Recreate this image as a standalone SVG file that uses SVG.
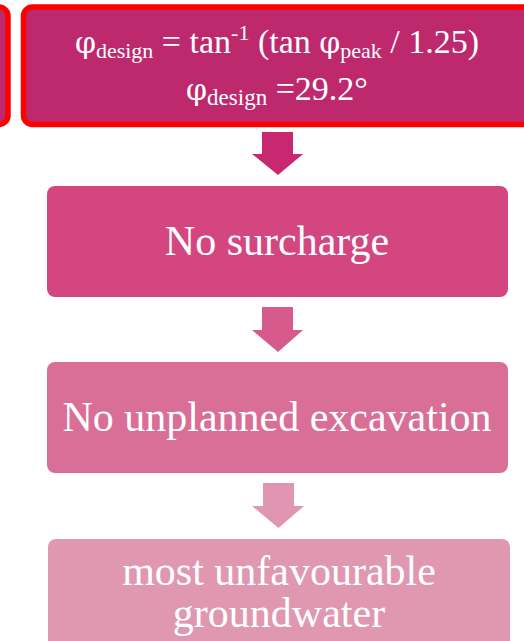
<svg xmlns="http://www.w3.org/2000/svg" width="524" height="641" viewBox="0 0 524 641">
<style>
.t{font-family:"Liberation Serif","Times New Roman",serif;fill:#ffffff;text-anchor:middle}
.s{font-family:"Liberation Serif","Times New Roman",serif}
.g{font-family:"DejaVu Serif","Liberation Serif",serif}
.hl{fill:#BE296D;stroke:#FF0000;stroke-width:5.5}
</style>
<rect width="524" height="641" fill="#ffffff"/>
<g id="node-left">
<rect class="hl" x="-40" y="7" width="48" height="117.5" rx="9"/>
</g>
<g id="node-formula">
<rect class="hl" x="23.5" y="7" width="510" height="117.5" rx="9"/>
<text class="t" x="277" y="53" font-size="34"><tspan class="g" font-size="30">φ</tspan><tspan class="s" font-size="22" dy="5">design</tspan><tspan class="s" dy="-5"> = tan</tspan><tspan class="s" font-size="22" dy="-13">-1</tspan><tspan class="s" dy="13"> (tan </tspan><tspan class="g" font-size="30">φ</tspan><tspan class="s" font-size="22" dy="5">peak</tspan><tspan class="s" dy="-5"> / 1.25)</tspan></text>
<text class="t" x="277" y="100" font-size="34"><tspan class="g" font-size="30">φ</tspan><tspan class="s" font-size="23" dy="5">design</tspan><tspan class="s" dy="-5"> =29.2°</tspan></text>
</g>
<g id="connectors">
<polygon fill="#C8286F" points="262,132 293,132 293,154 303,154 278,175 252,154 262,154"/>
<polygon fill="#D65B8C" points="262,307 293,307 293,330 303,330 278,352 252,330 262,330"/>
<polygon fill="#E096B0" points="263,483 294,483 294,506 304,506 278.5,528 252,506 263,506"/>
</g>
<g id="node-surcharge">
<rect x="47" y="186" width="461" height="111" rx="8" fill="#D4467F"/>
<text class="t" x="277" y="255" font-size="42">No surcharge</text>
</g>
<g id="node-excavation">
<rect x="47" y="362" width="461" height="111" rx="8" fill="#D96F97"/>
<text class="t" x="277" y="431" font-size="42">No unplanned excavation</text>
</g>
<g id="node-groundwater">
<rect x="48" y="539" width="462" height="130" rx="8" fill="#E098B0"/>
<text class="t" x="279" y="585" font-size="42">most unfavourable</text>
<text class="t" x="279" y="627" font-size="42">groundwater</text>
</g>
</svg>
